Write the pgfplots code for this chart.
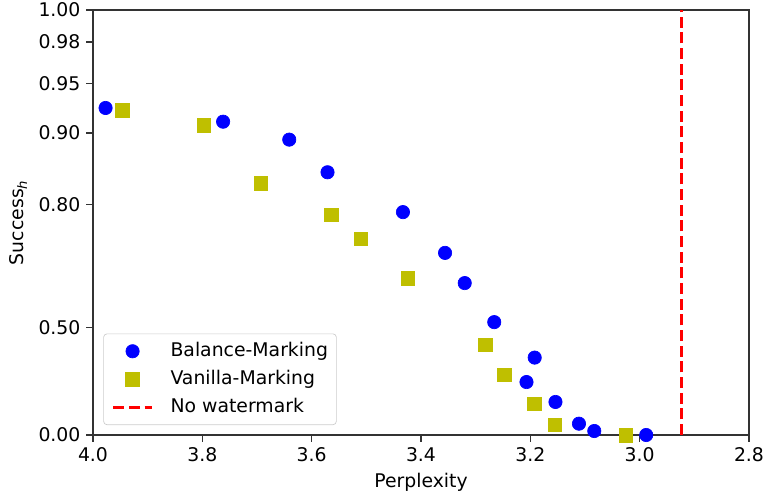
\documentclass[border=0pt]{standalone}
\usepackage{fontspec}
\setmainfont{DejaVu Sans}
\usepackage{pgfplots}
\pgfplotsset{compat=1.18}

\definecolor{mplyellow}{rgb}{0.75,0.75,0}

\begin{document}
\begin{tikzpicture}
\begin{axis}[
  scale only axis,
  width=393.6pt, height=255pt,
  xmin=2.8, xmax=4.0, x dir=reverse,
  ymin=0, ymax=1,
  y coord trafo/.code={\pgfmathparse{-ln(1.1-#1)}},
  y coord inv trafo/.code={\pgfmathparse{1.1-exp(-#1)}},
  xtick={2.8,3.0,3.2,3.4,3.6,3.8,4.0},
  ytick={0,0.5,0.8,0.9,0.95,0.98,1},
  yticklabels={0.00,0.50,0.80,0.90,0.95,0.98,1.00},
  x tick label style={/pgf/number format/.cd, fixed, fixed zerofill, precision=1, assume math mode=true},
  tick align=outside, tick pos=left,
  major tick length=4pt,
  axis line style={line width=0.95pt, black!80},
  tick style={line width=0.95pt, black!80},
  tick label style={font=\fontsize{11.3}{13.5}\selectfont},
  label style={font=\fontsize{11.3}{13.5}\selectfont},
  xlabel={Perplexity},
  ylabel={Success\textsubscript{\textit{h}}},
  legend cell align=left,
  legend style={at={(0.0157,0.0235)}, anchor=south west,
                draw=black!20, rounded corners=2pt, fill=white,
                font=\fontsize{11.3}{13.5}\selectfont,
                row sep=5.9pt, column sep=10.4pt,
                inner xsep=5pt, inner ysep=5pt,
                nodes={inner xsep=0pt, inner ysep=0pt, text height=8.5pt, text depth=2.4pt}},
  legend image code/.code={
    \draw[mark repeat=2, mark phase=2, #1] plot coordinates {(0pt,0pt) (11.5pt,0pt) (23pt,0pt)};
  },
]
\addplot[only marks, mark=*, mark size=4pt, color=blue, mark options={draw=blue, fill=blue}]
  coordinates {
  (3.977,0.926) (3.762,0.912) (3.641,0.892) (3.571,0.850) (3.433,0.787)
  (3.356,0.706) (3.320,0.633) (3.266,0.518) (3.192,0.389) (3.207,0.284)
  (3.154,0.187) (3.111,0.068) (3.083,0.0245) (2.988,0.0)
  };
\addlegendentry{Balance-Marking}
\addplot[only marks, mark=square*, mark size=4.1pt, color=mplyellow, mark options={draw=mplyellow, fill=mplyellow}]
  coordinates {
  (3.946,0.924) (3.797,0.908) (3.693,0.834) (3.564,0.782) (3.510,0.736)
  (3.424,0.646) (3.282,0.438) (3.247,0.316) (3.193,0.1765) (3.155,0.062)
  (3.025,0.0)
  };
\addlegendentry{Vanilla-Marking}
\addplot[red, line width=1.75pt, dash pattern=on 6.6pt off 2.8pt]
  coordinates {(2.924,0) (2.924,1)};
\addlegendentry{No watermark}
\end{axis}
% page size as in the reference: a tight margin on the right
\pgfresetboundingbox
\path ([xshift=-55.8pt, yshift=-37.2pt]current axis.south west)
      rectangle ([xshift=9.6pt, yshift=6pt]current axis.north east);
\end{tikzpicture}
\end{document}
